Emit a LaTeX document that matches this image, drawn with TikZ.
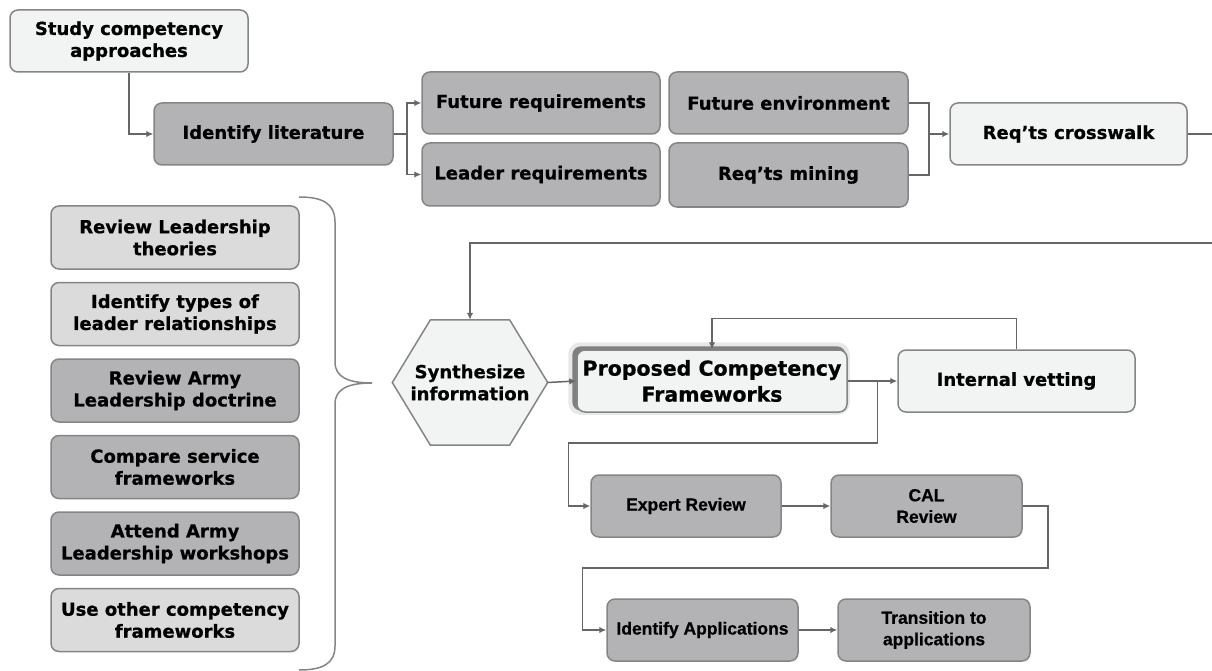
\documentclass[tikz,border=0pt]{standalone}
\usepackage{fontspec}
\newfontfamily\stagefont{DejaVu Sans}[BoldFeatures={FakeBold=0.7}]
\newfontfamily\reviewfont{Liberation Sans}[BoldFeatures={FakeBold=0.7}]
\usetikzlibrary{arrows.meta,calc,backgrounds,positioning}
\definecolor{boxlight}{HTML}{F2F3F3}
\definecolor{boxpale}{HTML}{DBDBDB}
\definecolor{boxgray}{HTML}{B3B3B5}
\definecolor{edgegray}{HTML}{858585}
\definecolor{wiregray}{HTML}{666666}
\tikzset{
	stagebox/.style={draw=edgegray,line width=1.5pt,rounded corners=8pt,align=center,inner sep=1pt,
		minimum height=62,font=\stagefont\bfseries\fontsize{18}{22}\selectfont},
	reviewbox/.style={stagebox,fill=boxgray,font=\reviewfont\bfseries\fontsize{17.5}{21.5}\selectfont},
	wire/.style={draw=wiregray,line width=1.5pt},
	wirearrow/.style={wire,-{Latex[length=7pt,width=6.5pt]}},
	bracket/.style={draw=edgegray,line width=1.5pt}
}
\begin{document}
\begin{tikzpicture}[x=1pt,y=-1pt]
	\useasboundingbox (0,0) rectangle (1212,671);
	% requirements strand
	\node[stagebox,fill=boxlight,minimum width=238] (study) at (129,41) {Study competency\\approaches};
	\node[stagebox,fill=boxgray,minimum width=239] (idlit) at (273.5,134) {Identify literature};
	\node[stagebox,fill=boxgray,minimum width=238] (futreq) at (541,103) {Future requirements};
	\node[stagebox,fill=boxgray,minimum width=238,minimum height=63] (leadreq) at (541,174.5) {Leader requirements};
	\node[stagebox,fill=boxgray,minimum width=239] (futenv) at (788.5,103) {Future environment};
	\node[stagebox,fill=boxgray,minimum width=239,minimum height=64] (mining) at (788.5,175) {Req’ts mining};
	\node[stagebox,fill=boxlight,minimum width=237] (crosswalk) at (1068.5,134) {Req’ts crosswalk};
	\coordinate (forklit) at (407,134);
	\coordinate (joinenv) at (929,134);
	\coordinate (exitright) at (1212,134);
	\coordinate (backright) at (1212,243);
	\draw[wirearrow] (study.south) |- (idlit.west);
	\draw[wire] (idlit.east) -- (forklit);
	\draw[wirearrow] (forklit) |- (futreq.west);
	\draw[wirearrow] (forklit) |- (leadreq.west);
	\draw[wire] (futenv.east) -| (joinenv) |- (mining.east);
	\draw[wirearrow] (joinenv) -- (crosswalk.west);
	\draw[wire] (crosswalk.east) -- (exitright);
	% leadership sources
	\foreach \nm/\fc/\txt [count=\i from 0] in {
		revtheo/boxpale/{Review Leadership\\theories},
		reltypes/boxpale/{Identify types of\\leader relationships},
		armydoc/boxgray/{Review Army\\Leadership doctrine},
		servfw/boxgray/{Compare service\\frameworks},
		workshops/boxgray/{Attend Army\\Leadership workshops},
		otherfw/boxpale/{Use other competency\\frameworks}}
		\node[stagebox,fill=\fc,minimum width=248,minimum height=63] (\nm) at (175,{237.5+76.5*\i}) {\txt};
	\draw[bracket] (299,197) .. controls (322,197) and (335,203) .. (335,222) -- (335,362)
		.. controls (335,377) and (348,383) .. (372,383)
		.. controls (348,383) and (335,389) .. (335,404) -- (335,646)
		.. controls (335,664) and (322,670) .. (299,670);
	% synthesis and review strand
	\node[inner sep=0,minimum width=155,minimum height=125,align=center,
		font=\stagefont\bfseries\fontsize{18}{22}\selectfont] (syn) at (470,382.5) {Synthesize\\information};
	\node[stagebox,fill=boxlight,minimum width=270,font=\stagefont\bfseries\fontsize{20.5}{26}\selectfont] (prop) at (712,381) {Proposed Competency\\Frameworks};
	\node[stagebox,fill=boxlight,minimum width=237] (vet) at (1016.5,381) {Internal vetting};
	\node[reviewbox,minimum width=190] (expert) at (686,506) {Expert Review};
	\node[reviewbox,minimum width=191] (cal) at (926.5,506) {CAL\\Review};
	\node[reviewbox,minimum width=191] (ident) at (702.5,630) {Identify Applications};
	\node[reviewbox,minimum width=192] (trans) at (934,630) {Transition to\\applications};
	\begin{scope}[on background layer]
		\draw[draw=edgegray,fill=boxlight,line width=1.5pt] (syn.west)
			-- ($(syn.north west)!0.245!(syn.north east)$) -- ($(syn.north west)!0.755!(syn.north east)$)
			-- (syn.east)
			-- ($(syn.south west)!0.755!(syn.south east)$) -- ($(syn.south west)!0.245!(syn.south east)$) -- cycle;
		\fill[black!9,rounded corners=12pt] ([shift={(-8,-7)}]prop.north west) rectangle ([shift={(2,2)}]prop.south east);
		\fill[black!50,rounded corners=9pt] ([shift={(-4,-3)}]prop.north west) rectangle ([shift={(-2,-2)}]prop.south east);
	\end{scope}
	\coordinate (forkprop) at ($(prop.east)!0.6!(vet.west)$);
	\draw[wirearrow] (backright) -| (syn.north);
	\draw[wirearrow] (syn.east) -- (prop.west);
	\draw[wirearrow] (prop.east) -- (vet.west);
	\draw[wirearrow] (vet.north) -- ++(0,-31) -| (prop.north);
	\draw[wirearrow] (forkprop) -- ++(0,62) -| ([xshift=-22]expert.west) -- (expert.west);
	\draw[wirearrow] (expert.east) -- (cal.west);
	\draw[wirearrow] (cal.east) -- ++(25,0) -- ++(0,62) -| ([xshift=-24]ident.west) -- (ident.west);
	\draw[wirearrow] (ident.east) -- (trans.west);
\end{tikzpicture}
\end{document}
